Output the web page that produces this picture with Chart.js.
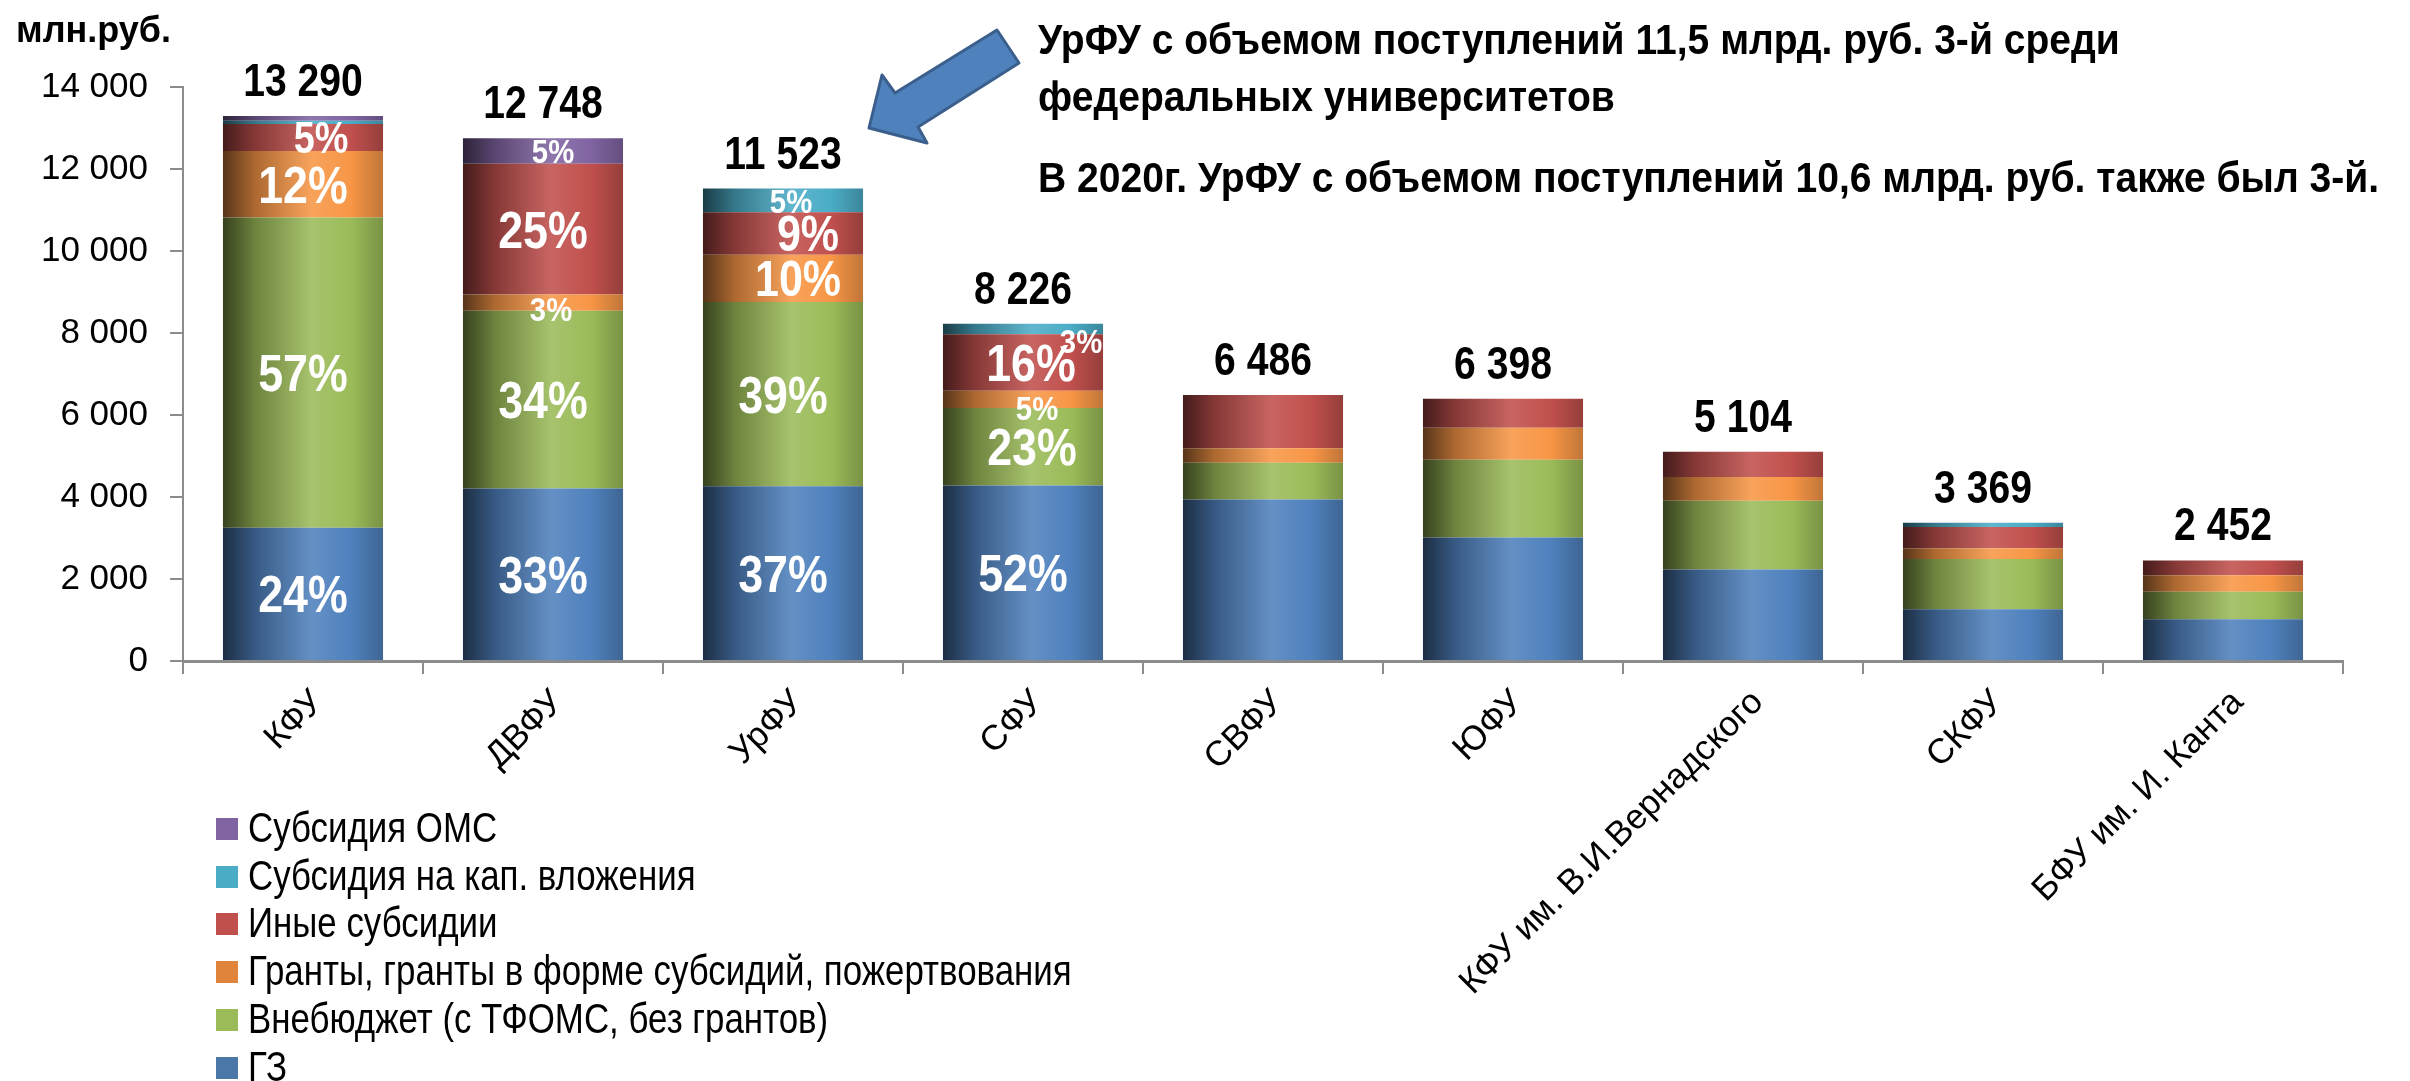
<!DOCTYPE html>
<html lang="ru">
<head>
<meta charset="UTF-8">
<title>Объем поступлений федеральных университетов</title>
<script src="https://cdn.jsdelivr.net/npm/chart.js@4"></script>
<style>
  html, body { margin: 0; padding: 0; background: #fff; }
  #wrap { position: relative; width: 2410px; height: 1081px; overflow: hidden; font-family: "Liberation Sans", Arial, sans-serif; color: #000; }
  #chart { position: absolute; left: 0; top: 0; }
  #unit { position: absolute; left: 16px; top: 12px; font-weight: bold; font-size: 36px; line-height: 36px; white-space: nowrap; }
  .note { position: absolute; left: 1038px; font-weight: bold; font-size: 42px; line-height: 42px; white-space: nowrap; transform: scaleX(0.93); transform-origin: 0 0; }
  #arrow { position: absolute; left: 0; top: 0; }
  #legend { position: absolute; left: 216px; top: 804px; }
  .li { position: absolute; left: 0; height: 48px; white-space: nowrap; }
  .sw { position: absolute; left: 0; top: 14px; width: 22px; height: 22px; }
  .lt { position: absolute; left: 32px; top: 0; font-size: 42px; line-height: 48px; transform: scaleX(0.83); transform-origin: 0 0; }
</style>
</head>
<body>
<div id="wrap">
  <canvas id="chart" width="2410" height="1081"></canvas>
  <div id="unit">млн.руб.</div>
  <div class="note" style="top:19px">УрФУ с объемом поступлений 11,5 млрд. руб. 3-й среди</div>
  <div class="note" style="top:76px">федеральных университетов</div>
  <div class="note" style="top:157px">В 2020г. УрФУ с объемом поступлений 10,6 млрд. руб. также был 3-й.</div>
  <svg id="arrow" width="1100" height="200">
    <polygon points="869,128 882,75 895,93 997,30 1019,63 918,127 927,143" fill="#4f81bd" stroke="#3b5f8c" stroke-width="3" stroke-linejoin="round"/>
  </svg>
  <div id="legend"></div>
</div>

<script>
  // университеты
  const universities = ['КФУ', 'ДВФУ', 'УрФУ', 'СФУ', 'СВФУ', 'ЮФУ', 'КФУ им. В.И.Вернадского', 'СКФУ', 'БФУ им. И. Канта'];

  // источники поступлений, млн.руб. (снизу вверх)
  const seriesNames = ['ГЗ', 'Внебюджет (с ТФОМС, без грантов)', 'Гранты, гранты в форме субсидий, пожертвования', 'Иные субсидии', 'Субсидия на кап. вложения', 'Субсидия ОМС'];
  const gz      = [3250, 4207, 4264, 4278, 3940, 3010, 2230, 1260, 1020];
  const vnebudg = [7565, 4334, 4494, 1892,  895, 1900, 1680, 1230,  670];
  const granty  = [1624,  400, 1150,  420,  355,  780,  580,  260,  400];
  const inye    = [ 659, 3187, 1040, 1380, 1296,  708,  614,  520,  362];
  const kap     = [  77,    0,  575,  256,    0,    0,    0,   99,    0];
  const oms     = [ 115,  620,    0,    0,    0,    0,    0,    0,    0];
  const series = [gz, vnebudg, granty, inye, kap, oms];

  // подписи долей внутри столбцов
  const pctGz      = ['24%', '33%', '37%', '52%', '', '', '', '', ''];
  const pctVnebudg = ['57%', '34%', '39%', '23%', '', '', '', '', ''];
  const pctGranty  = ['12%', '3%', '10%', '5%', '', '', '', '', ''];
  const pctInye    = ['5%', '25%', '9%', '16%', '', '', '', '', ''];
  const pctKap     = ['', '', '5%', '3%', '', '', '', '', ''];
  const pctOms     = ['', '5%', '', '', '', '', '', '', ''];
  const pctLabels = [pctGz, pctVnebudg, pctGranty, pctInye, pctKap, pctOms];

  const yTicks = [0, 2000, 4000, 6000, 8000, 10000, 12000, 14000];

  const colors = ['#4f81bd', '#9bbb59', '#f79646', '#c0504d', '#4bacc6', '#8064a2'];
  const legendColors = ['#4a76a8', '#9bbb59', '#e0843c', '#c0504d', '#4bacc6', '#8064a2'];
  const BAR_PCT = 0.667;

  // мелкие/сдвинутые подписи (как в исходном слайде)
  const labelStyle = {
    '3-0': { size: 44, dx: 18 },
    '2-1': { size: 34, dx: 8, dy: 6 },
    '5-1': { size: 34, dx: 10 },
    '2-2': { size: 50, dx: 15 },
    '3-2': { size: 50, dx: 25 },
    '4-2': { size: 34, dx: 8 },
    '1-3': { dx: 9 },
    '2-3': { size: 34, dx: 14, dy: 8 },
    '3-3': { dx: 8 },
    '4-3': { size: 34, dx: 58, dy: 12 }
  };

  function fmt(v) {
    return String(v).replace(/\B(?=(\d{3})+(?!\d))/g, ' ');
  }

  function mix(hex, other, t) {
    const a = parseInt(hex.slice(1), 16), b = parseInt(other.slice(1), 16);
    const ch = (n, s) => (n >> s) & 255;
    const m = s => Math.round(ch(a, s) * (1 - t) + ch(b, s) * t);
    return 'rgb(' + m(16) + ',' + m(8) + ',' + m(0) + ')';
  }

  // цилиндрическая заливка столбцов
  function barFill(base) {
    return (c) => {
      const chart = c.chart;
      const xs = chart.scales.x;
      if (!chart.chartArea || !xs || c.dataIndex === undefined) return base;
      const cx = xs.getPixelForValue(c.dataIndex);
      const half = xs.width / universities.length * BAR_PCT / 2;
      const g = chart.ctx.createLinearGradient(cx - half, 0, cx + half, 0);
      g.addColorStop(0, mix(base, '#000000', 0.65));
      g.addColorStop(0.2, mix(base, '#000000', 0.3));
      g.addColorStop(0.55, mix(base, '#ffffff', 0.12));
      g.addColorStop(0.8, base);
      g.addColorStop(1, mix(base, '#000000', 0.22));
      return g;
    };
  }

  // проверка узкого шрифта
  const probe = document.createElement('canvas').getContext('2d');
  probe.font = '40px "Liberation Sans Narrow", monospace';
  const w1 = probe.measureText('КФУ им. В.И.Вернадского').width;
  probe.font = '40px monospace';
  const w2 = probe.measureText('КФУ им. В.И.Вернадского').width;
  const narrowOK = Math.abs(w1 - w2) > 1;
  const xFont = narrowOK
    ? { family: '"Liberation Sans Narrow", "Arial Narrow", sans-serif', size: 43 }
    : { family: '"Liberation Sans", Arial, sans-serif', size: 35 };

  function drawNarrow(ctx, txt, x, y, size, color, sx) {
    ctx.save();
    ctx.translate(x, y);
    ctx.scale(sx, 1);
    ctx.font = 'bold ' + size + 'px "Liberation Sans", Arial, sans-serif';
    ctx.fillStyle = color;
    ctx.textAlign = 'center';
    ctx.textBaseline = 'alphabetic';
    ctx.fillText(txt, 0, 0);
    ctx.restore();
  }

  const barLabels = {
    id: 'barLabels',
    afterDatasetsDraw(chart) {
      const ctx = chart.ctx;
      const ys = chart.scales.y;
      chart.data.datasets.forEach((ds, di) => {
        chart.getDatasetMeta(di).data.forEach((bar, i) => {
          const txt = pctLabels[di][i];
          if (!txt) return;
          const st = labelStyle[di + '-' + i] || {};
          const size = st.size || 52;
          const yc = (bar.y + bar.base) / 2 + (st.dy || 0);
          drawNarrow(ctx, txt, bar.x + (st.dx || 0), yc + size * 0.358, size, '#ffffff', 0.86);
        });
      });
      const meta0 = chart.getDatasetMeta(0);
      universities.forEach((u, i) => {
        const total = series.reduce((s, arr) => s + arr[i], 0);
        drawNarrow(ctx, fmt(total), meta0.data[i].x, ys.getPixelForValue(total) - 20, 46, '#000000', 0.85);
      });
    }
  };

  Chart.defaults.font.family = '"Liberation Sans", Arial, sans-serif';
  Chart.defaults.color = '#000';

  new Chart(document.getElementById('chart'), {
    type: 'bar',
    data: {
      labels: universities,
      datasets: series.map((arr, k) => ({
        label: seriesNames[k],
        data: arr,
        backgroundColor: barFill(colors[k]),
        borderWidth: 0,
        barPercentage: BAR_PCT,
        categoryPercentage: 1
      }))
    },
    options: {
      responsive: false,
      animation: false,
      layout: { padding: { top: 87, right: 67, left: 0, bottom: 0 } },
      plugins: { legend: { display: false }, tooltip: { enabled: false } },
      scales: {
        x: {
          stacked: true,
          grid: { offset: true, drawOnChartArea: false, tickLength: 13, color: '#8c8c8c', lineWidth: 2 },
          border: { color: '#8c8c8c', width: 3 },
          ticks: { minRotation: 45, maxRotation: 45, autoSkip: false, padding: 8, labelOffset: 15, color: '#000', font: xFont },
          afterFit: s => { s.height = 420; }
        },
        y: {
          stacked: true,
          min: 0,
          max: 14000,
          afterBuildTicks: s => { s.ticks = yTicks.map(v => ({ value: v })); },
          ticks: { callback: v => fmt(v), padding: 22, color: '#000', font: { size: 35 } },
          grid: { drawOnChartArea: false, tickLength: 13, color: '#8c8c8c', lineWidth: 2 },
          border: { color: '#8c8c8c', width: 2 },
          afterFit: s => { s.width = 183; }
        }
      }
    },
    plugins: [barLabels]
  });

  // легенда (сверху вниз — в обратном порядке)
  const legend = document.getElementById('legend');
  seriesNames.slice().reverse().forEach((name, r) => {
    const k = seriesNames.length - 1 - r;
    const row = document.createElement('div');
    row.className = 'li';
    row.style.top = (r * 47.7) + 'px';
    row.innerHTML = '<div class="sw" style="background:' + legendColors[k] + '"></div><div class="lt"></div>';
    row.querySelector('.lt').textContent = name;
    legend.appendChild(row);
  });
</script>
</body>
</html>
